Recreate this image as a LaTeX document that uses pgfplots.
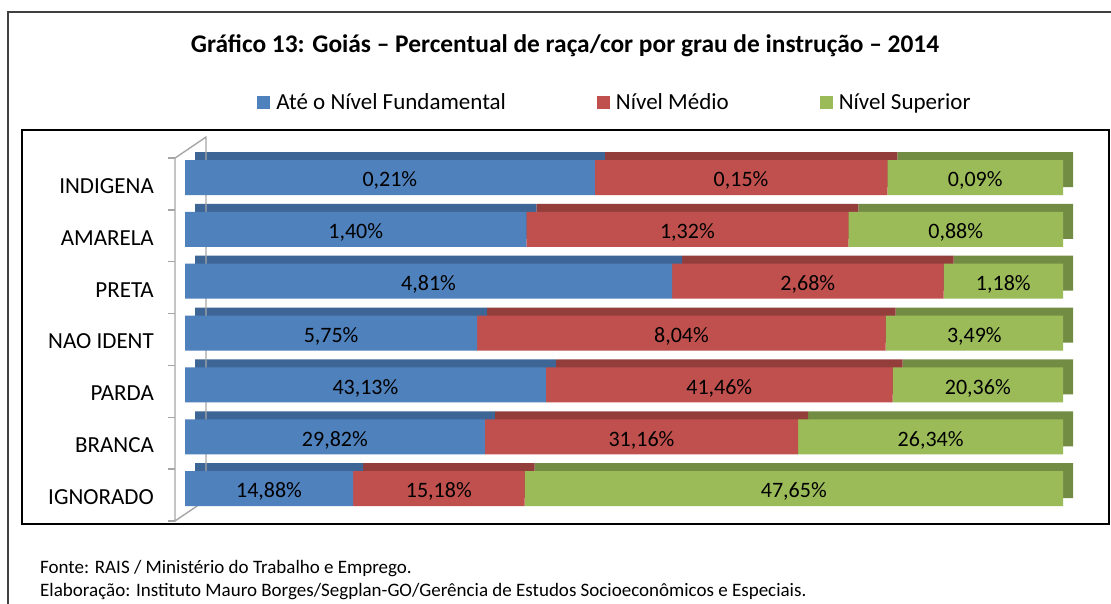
\documentclass[border=0pt]{standalone}
\usepackage{pgfplots}
\usepackage{pgfplotstable}
\pgfplotsset{compat=1.18}
\usepackage{fontspec}
\setmainfont{Carlito}
\definecolor{bF}{HTML}{4F81BD}
\definecolor{rF}{HTML}{C0504D}
\definecolor{gF}{HTML}{9BBB59}
\definecolor{bT}{HTML}{3D6596}
\definecolor{rT}{HTML}{943E3C}
\definecolor{gT}{HTML}{738C44}
\definecolor{wall}{HTML}{A6A6A6}

% normalised shares of each row (sum 100), read from the bar lengths / labels
\pgfplotstableread{
y a b c
6 46.67 33.33 20.00
5 38.89 36.67 24.44
4 55.48 30.91 13.61
3 33.28 46.53 20.19
2 41.10 39.50 19.40
1 34.15 35.69 30.16
0 19.15 19.53 61.32
}\bars

% label positions (middle of each segment) and printed values
\pgfplotstableread{
m y l
23.33 6 0,21
63.33 6 0,15
90.00 6 0,09
19.44 5 1,40
57.22 5 1,32
87.78 5 0,88
27.74 4 4,81
70.93 4 2,68
93.20 4 1,18
16.64 3 5,75
56.54 3 8,04
89.90 3 3,49
20.55 2 43,13
60.85 2 41,46
90.30 2 20,36
17.07 1 29,82
51.99 1 31,16
84.92 1 26,34
9.57 0 14,88
28.91 0 15,18
69.34 0 47,65
}\labs

\newcommand{\fs}{\fontsize{22bp}{26bp}\selectfont}
\newcommand{\fc}{\fontsize{23bp}{27bp}\selectfont}

\begin{document}
\begin{tikzpicture}
\path[use as bounding box] (0,0) rectangle (1111bp,604bp);
\fill[white] (0,0) rectangle (1111bp,604bp);
\draw[line width=1.2bp, black!75] (8bp,0bp) -- (8bp,592bp) -- (1111bp,592bp);
\draw[line width=1.8bp, black] (22bp,80bp) rectangle (1109bp,474bp);

\node[anchor=base, inner sep=0pt, font=\bfseries\fontsize{25.4bp}{29bp}\selectfont] at (565bp,551bp)
  {Gráfico 13: Goiás – Percentual de raça/cor por grau de instrução – 2014};
\node[anchor=base west, inner sep=0pt, font=\fontsize{19bp}{22bp}\selectfont] at (40bp,31bp)
  {Fonte: RAIS / Ministério do Trabalho e Emprego.};
\node[anchor=base west, inner sep=0pt, font=\fontsize{19bp}{22bp}\selectfont] at (40bp,7.5bp)
  {Elaboração: Instituto Mauro Borges/Segplan-GO/Gerência de Estudos Socioeconômicos e Especiais.};

\pgfplotsset{base/.style={scale only axis, width=878bp, height=363bp,
  xmin=0, xmax=100, ymin=-0.5, ymax=6.5, clip=false, anchor=south west}}

% back faces (shifted) + 3D wall
\begin{axis}[base, at={(195bp,97.4bp)}, hide axis, xbar stacked, bar width=35bp]
\draw[wall, line width=1.4bp] (axis cs:-2.278,-0.777) -- (axis cs:-2.278,6.221) -- (axis cs:1.253,6.626) -- (axis cs:1.253,-0.372) -- cycle;
\pgfplotsinvokeforeach{0,...,7}{
  \draw[wall, line width=1.4bp] (axis cs:-3.075,{-0.777+#1}) -- (axis cs:-2.278,{-0.777+#1});
}
\addplot[fill=bT, draw=none] table[x=a, y=y] {\bars};
\addplot[fill=rT, draw=none] table[x=b, y=y] {\bars};
\addplot[fill=gT, draw=none] table[x=c, y=y] {\bars};
\end{axis}

% front faces
\begin{axis}[base, at={(185bp,89.4bp)}, xbar stacked, bar width=35bp,
  axis lines=left, axis line style={draw=none}, xtick=\empty,
  ytick={0,...,6}, major tick length=0pt,
  yticklabels={IGNORADO,BRANCA,PARDA,NAO IDENT,PRETA,AMARELA,INDIGENA},
  yticklabel style={anchor=base east, inner sep=0pt, xshift=-31bp, yshift=-15.8bp, font=\fc},
  legend columns=3, legend cell align=left,
  legend image code/.code={\fill[#1] (0bp,-7bp) rectangle (13bp,6bp); \path (19bp,0bp);},
  legend style={draw=none, fill=none, font=\fc, at={(0.4886,1.1366)}, anchor=center,
    nodes={inner sep=0pt},
    /tikz/every even column/.append style={column sep=91bp}}]
\addplot[fill=bF, draw=none] table[x=a, y=y] {\bars};
\addlegendentry{Até o Nível Fundamental}
\addplot[fill=rF, draw=none] table[x=b, y=y] {\bars};
\addlegendentry{Nível Médio}
\addplot[fill=gF, draw=none] table[x=c, y=y] {\bars};
\addlegendentry{Nível Superior}
\end{axis}

% value labels
\begin{axis}[base, at={(185bp,89.4bp)}, hide axis]
\addplot[only marks, mark=none, point meta=explicit symbolic,
  nodes near coords={\pgfplotspointmeta\%},
  every node near coord/.append style={anchor=base, inner sep=0pt, yshift=-9.2bp, font=\fs, text=black}]
  table[x=m, y=y, meta=l] {\labs};
\end{axis}
\end{tikzpicture}
\end{document}
